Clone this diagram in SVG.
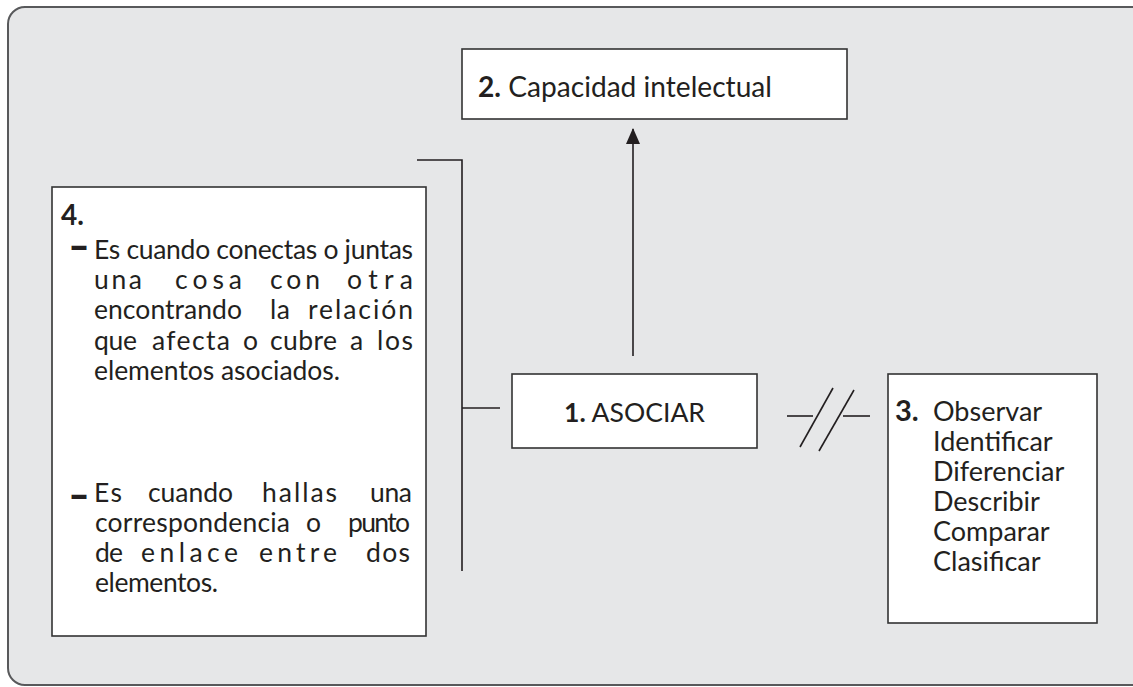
<svg xmlns="http://www.w3.org/2000/svg" width="1133" height="687" viewBox="0 0 1133 687">
<defs>
<style>
.bg{fill:#e6e7e8;stroke:#58595b;stroke-width:2}
.box{fill:#ffffff;stroke:#333333;stroke-width:1.6}
.ln{fill:none;stroke:#231f20;stroke-width:1.6}
.t{font-family:Lato,"Liberation Sans",sans-serif;font-size:26.5px;fill:#231f20}
.n{font-size:27px}
.b{font-weight:bold}
.d{font-family:Lato,"Liberation Sans",sans-serif;font-size:26px;font-weight:bold;fill:#231f20;stroke:#231f20;stroke-width:2}
</style>
<marker id="ah" viewBox="0 0 16 14" refX="15" refY="7" markerWidth="16" markerHeight="14" markerUnits="userSpaceOnUse" orient="auto">
<path d="M0,0 L16,7 L0,14 Z" fill="#231f20"/>
</marker>
</defs>
<rect class="bg" x="8" y="7" width="1160" height="678" rx="17" ry="17"/>
<g id="connectors">
<line class="ln" x1="633" y1="356" x2="633" y2="129" marker-end="url(#ah)"/>
<polyline class="ln" points="417,160 462,160 462,571"/>
<line class="ln" x1="462" y1="408" x2="500" y2="408"/>
<line class="ln" x1="787" y1="416" x2="813" y2="416"/>
<line class="ln" x1="800" y1="447" x2="833" y2="388"/>
<line class="ln" x1="819" y1="451" x2="854" y2="390"/>
<line class="ln" x1="843" y1="416" x2="870" y2="416"/>
</g>
<g id="node2">
<rect class="box" x="462" y="49" width="385" height="70"/>
<text class="t" x="478" y="97" textLength="294" lengthAdjust="spacingAndGlyphs" style="font-size:29px"><tspan class="b">2.</tspan> Capacidad intelectual</text>
</g>
<g id="node1">
<rect class="box" x="512" y="374" width="245" height="74"/>
<text class="t" x="564" y="422" textLength="141" lengthAdjust="spacingAndGlyphs"><tspan class="b">1.</tspan> ASOCIAR</text>
</g>
<g id="node3">
<rect class="box" x="888" y="374" width="209" height="249"/>
<text class="t b n" x="895" y="421" style="font-size:29px">3.</text>
<text class="t n" x="933" y="421">Observar</text>
<text class="t n" x="933" y="451">Identificar</text>
<text class="t n" x="933" y="481">Diferenciar</text>
<text class="t n" x="933" y="511">Describir</text>
<text class="t n" x="933" y="541">Comparar</text>
<text class="t n" x="933" y="571">Clasificar</text>
</g>
<g id="node4">
<rect class="box" x="52" y="187" width="374" height="449"/>
<text class="t b" x="61" y="225" style="font-size:28px">4.</text>
<text class="d" x="70" y="256" textLength="18" lengthAdjust="spacingAndGlyphs">–</text>
<text class="t" x="94" y="259" textLength="319" lengthAdjust="spacing">Es cuando conectas o juntas</text>
<text class="t" y="289"><tspan x="94" textLength="48" lengthAdjust="spacing">una</tspan> <tspan x="175" textLength="67" lengthAdjust="spacing">cosa</tspan> <tspan x="270" textLength="50" lengthAdjust="spacing">con</tspan> <tspan x="347" textLength="66" lengthAdjust="spacing">otra</tspan></text>
<text class="t" y="319"><tspan x="94" textLength="148" lengthAdjust="spacing">encontrando</tspan> <tspan x="270" textLength="20" lengthAdjust="spacing">la</tspan> <tspan x="308" textLength="105" lengthAdjust="spacing">relación</tspan></text>
<text class="t" y="350"><tspan x="94" textLength="43" lengthAdjust="spacing">que</tspan> <tspan x="152" textLength="78" lengthAdjust="spacing">afecta</tspan> <tspan x="243">o</tspan> <tspan x="270" textLength="67" lengthAdjust="spacing">cubre</tspan> <tspan x="350">a</tspan> <tspan x="377" textLength="36" lengthAdjust="spacing">los</tspan></text>
<text class="t" x="94" y="380" textLength="246" lengthAdjust="spacing">elementos asociados.</text>
<text class="d" x="70" y="505" textLength="18" lengthAdjust="spacingAndGlyphs">–</text>
<text class="t" y="502"><tspan x="94" textLength="28" lengthAdjust="spacing">Es</tspan> <tspan x="148" textLength="85" lengthAdjust="spacing">cuando</tspan> <tspan x="262" textLength="75" lengthAdjust="spacing">hallas</tspan> <tspan x="370" textLength="42" lengthAdjust="spacing">una</tspan></text>
<text class="t" y="532"><tspan x="95" textLength="195" lengthAdjust="spacing">correspondencia</tspan> <tspan x="306">o</tspan> <tspan x="348" textLength="62" lengthAdjust="spacing">punto</tspan></text>
<text class="t" y="562"><tspan x="95" textLength="28" lengthAdjust="spacing">de</tspan> <tspan x="141" textLength="97" lengthAdjust="spacing">enlace</tspan> <tspan x="259" textLength="78" lengthAdjust="spacing">entre</tspan> <tspan x="366" textLength="44" lengthAdjust="spacing">dos</tspan></text>
<text class="t" x="95" y="592" textLength="123" lengthAdjust="spacing">elementos.</text>
</g>
</svg>
